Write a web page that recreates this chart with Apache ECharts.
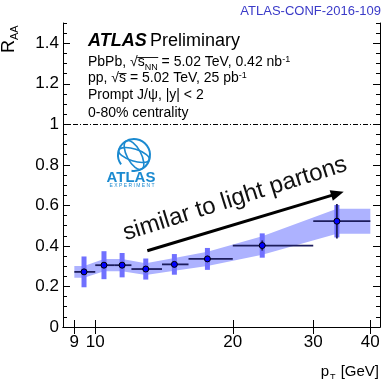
<!DOCTYPE html>
<html><head><meta charset="utf-8">
<script src="https://cdn.jsdelivr.net/npm/echarts@6/dist/echarts.min.js"></script>
<style>html,body{margin:0;padding:0;background:#fff}#chart{width:384px;height:379px}</style>
</head><body><div id="chart"></div>
<script>
// Prompt J/psi R_AA versus pT, PbPb 0-80% centrality
const binLow     = [9, 10, 11, 12, 14, 16, 20, 30];
const binHigh    = [10, 11, 12, 14, 16, 20, 30, 40];
const ptMean     = [9.45, 10.45, 11.45, 12.9, 14.9, 17.6, 23.2, 33.8];
const raa        = [0.272, 0.305, 0.305, 0.286, 0.309, 0.336, 0.402, 0.522];
const statErr    = [0.010, 0.010, 0.010, 0.010, 0.012, 0.015, 0.025, 0.085];
const systUncorr = [0.076, 0.069, 0.060, 0.052, 0.051, 0.054, 0.060, 0.080];
const systCorr   = [0.029, 0.030, 0.030, 0.029, 0.032, 0.035, 0.046, 0.062];
const xTicks     = [9, 10, 20, 30, 40];
const yTicks     = [0, 0.2, 0.4, 0.6, 0.8, 1, 1.2, 1.4];
const arrowFrom  = [13.0, 0.376];
const arrowTo    = [33.9, 0.658];

const yMinor = [];
yTicks.forEach(v => { [0.05, 0.1, 0.15].forEach(d => { const m = +(v + d).toFixed(2); if (m <= 1.5) yMinor.push(m); }); });
yMinor.push(1.45);

const FONT = 'Liberation Sans, Arial, Helvetica, sans-serif';
const chart = echarts.init(document.getElementById('chart'), null, { renderer: 'canvas' });

// text widths for the square-root overlines
const mctx = document.createElement('canvas').getContext('2d');
function textW(str, px) { mctx.font = px + 'px ' + FONT; return mctx.measureText(str).width; }
const ol1x = 88 + textW('PbPb, √', 14) - 0.5;
const ol1w = textW('s', 14) + textW('NN', 9) + 1;
const ol2x = 88 + textW('pp, √', 14) - 0.5;
const ol2w = textW('s', 14) + 1;

const xBase = {
  type: 'log', logBase: 10, min: 8.5, max: 42,
  axisLine: { lineStyle: { color: '#000', width: 1 } },
  axisTick: { inside: true, length: 7, customValues: xTicks, lineStyle: { color: '#000' } },
  splitLine: { show: false }, minorTick: { show: false }
};
const yBase = { type: 'value', min: 0, max: 1.5, splitLine: { show: false } };

// correlated-systematics band: flat across the outer half bins, joined at the points
const bandX  = [binLow[0]].concat(ptMean, [binHigh[binHigh.length - 1]]);
const bandLo = raa.map((v, i) => v - systCorr[i]);
const bandHi = raa.map((v, i) => v + systCorr[i]);
bandLo.unshift(bandLo[0]); bandLo.push(bandLo[bandLo.length - 1]);
bandHi.unshift(bandHi[0]); bandHi.push(bandHi[bandHi.length - 1]);

const option = {
  animation: false,
  grid: { left: 63, right: 4, top: 23, bottom: 52 },
  xAxis: [
    Object.assign({}, xBase, { position: 'bottom',
      axisLabel: { customValues: xTicks, fontFamily: FONT, fontSize: 17, color: '#000', margin: 7 } }),
    Object.assign({}, xBase, { position: 'top', axisLabel: { show: false } })
  ],
  yAxis: [
    Object.assign({}, yBase, { position: 'left',
      axisLine: { show: true, lineStyle: { color: '#000' } },
      axisTick: { inside: true, length: 7, customValues: yTicks, lineStyle: { color: '#000' } },
      axisLabel: { customValues: yTicks, fontFamily: FONT, fontSize: 17, color: '#000', margin: 4,
        formatter: v => String(+v.toFixed(1)) } }),
    Object.assign({}, yBase, { position: 'left',
      axisLine: { show: false },
      axisTick: { inside: true, length: 4, customValues: yMinor, lineStyle: { color: '#000' } },
      axisLabel: { show: false } }),
    Object.assign({}, yBase, { position: 'right',
      axisLine: { show: true, lineStyle: { color: '#000' } },
      axisTick: { inside: true, length: 7, customValues: yTicks, lineStyle: { color: '#000' } },
      axisLabel: { show: false } }),
    Object.assign({}, yBase, { position: 'right',
      axisLine: { show: false },
      axisTick: { inside: true, length: 4, customValues: yMinor, lineStyle: { color: '#000' } },
      axisLabel: { show: false } })
  ],
  series: [
    {
      type: 'custom', name: 'corr', z: 1, silent: true,
      data: [[bandX[0], bandLo[0], bandHi[0]]],
      renderItem: function (params, api) {
        const up = bandX.map((x, i) => api.coord([x, bandHi[i]]));
        const dn = bandX.map((x, i) => api.coord([x, bandLo[i]])).reverse();
        return { type: 'polygon', shape: { points: up.concat(dn) }, style: { fill: '#adb2ff' } };
      }
    },
    {
      type: 'custom', name: 'uncorr', z: 2, silent: true,
      data: ptMean.map((x, i) => [x, raa[i] - systUncorr[i], raa[i] + systUncorr[i]]),
      renderItem: function (params, api) {
        const a = api.coord([api.value(0), api.value(1)]);
        const b = api.coord([api.value(0), api.value(2)]);
        return { type: 'rect', shape: { x: a[0] - 2.5, y: b[1], width: 5, height: a[1] - b[1] },
          style: { fill: '#7070ff' } };
      }
    },
    {
      type: 'custom', name: 'bars', z: 3, silent: true,
      data: ptMean.map((x, i) => [x, raa[i], binLow[i], binHigh[i], raa[i] - statErr[i], raa[i] + statErr[i]]),
      renderItem: function (params, api) {
        const l = api.coord([api.value(2), api.value(1)]);
        const r = api.coord([api.value(3), api.value(1)]);
        const t = api.coord([api.value(0), api.value(5)]);
        const b = api.coord([api.value(0), api.value(4)]);
        const st = { stroke: '#1c1c5c', lineWidth: 1.8 };
        return { type: 'group', children: [
          { type: 'line', shape: { x1: l[0], y1: l[1], x2: r[0], y2: r[1] }, style: st },
          { type: 'line', shape: { x1: t[0], y1: t[1], x2: b[0], y2: b[1] }, style: st }
        ] };
      },
      markLine: {
        silent: true, symbol: ['none', 'triangle'], symbolSize: [11, 13],
        lineStyle: { color: '#000', width: 3, type: 'solid' }, label: { show: false },
        data: [[{ coord: arrowFrom }, { coord: arrowTo }]]
      }
    },
    {
      type: 'scatter', name: 'RAA', z: 4, silent: true,
      data: ptMean.map((x, i) => [x, raa[i]]),
      symbol: 'circle', symbolSize: 6,
      itemStyle: { color: '#0000ff', borderColor: '#000', borderWidth: 1, opacity: 1 },
      markLine: {
        silent: true, symbol: 'none', label: { show: false },
        lineStyle: { color: '#000', width: 1, type: [5, 2, 1, 2] },
        data: [{ yAxis: 1 }]
      }
    }
  ],
  graphic: [
    { type: 'text', right: 3, top: 5, style: { text: 'ATLAS-CONF-2016-109', font: '13px ' + FONT, fill: '#3a3ac8' } },
    { type: 'text', x: 20, y: 53, rotation: Math.PI / 2, style: {
        text: '{r|R}{s|AA}', align: 'left', verticalAlign: 'bottom',
        rich: { r: { font: '18px ' + FONT, fill: '#000', lineHeight: 20, verticalAlign: 'top' },
                s: { font: '11px ' + FONT, fill: '#000', lineHeight: 11, verticalAlign: 'top', padding: [9, 0, 0, 0] } } } },
    { type: 'text', x: 88, y: 32, style: {
        text: '{b|ATLAS} {n|Preliminary}',
        rich: { b: { font: 'italic bold 18px ' + FONT, fill: '#000' }, n: { font: '18px ' + FONT, fill: '#000' } } } },
    { type: 'text', x: 88, y: 55, style: {
        text: '{m|PbPb, √s}{sub|NN}{m| = 5.02 TeV, 0.42 nb}{sup|-1}',
        rich: {
          m: { font: '14px ' + FONT, fill: '#000', lineHeight: 16, verticalAlign: 'top' },
          sub: { font: '9px ' + FONT, fill: '#000', lineHeight: 9, verticalAlign: 'top', padding: [8, 0, 0, 0] },
          sup: { font: '9px ' + FONT, fill: '#000', lineHeight: 9, verticalAlign: 'top', padding: [0, 0, 0, 0] } } } },
    { type: 'line', shape: { x1: ol1x, y1: 57.5, x2: ol1x + ol1w, y2: 57.5 }, style: { stroke: '#000', lineWidth: 0.9 } },
    { type: 'text', x: 88, y: 71, style: {
        text: '{m|pp, √s = 5.02 TeV, 25 pb}{sup|-1}',
        rich: {
          m: { font: '14px ' + FONT, fill: '#000', lineHeight: 16, verticalAlign: 'top' },
          sup: { font: '9px ' + FONT, fill: '#000', lineHeight: 9, verticalAlign: 'top' } } } },
    { type: 'line', shape: { x1: ol2x, y1: 73.5, x2: ol2x + ol2w, y2: 73.5 }, style: { stroke: '#000', lineWidth: 0.9 } },
    { type: 'text', x: 88, y: 88, style: { text: 'Prompt J/ψ, |y| < 2', font: '14px ' + FONT, fill: '#000' } },
    { type: 'text', x: 88, y: 106, style: { text: '0-80% centrality', font: '14px ' + FONT, fill: '#000' } },
    { type: 'text', x: 379, y: 364, style: {
        text: '{p|p}{s|T}{p| [GeV]}', align: 'right',
        rich: { p: { font: '15px ' + FONT, fill: '#000', lineHeight: 17, verticalAlign: 'top' },
                s: { font: '9px ' + FONT, fill: '#000', lineHeight: 9, verticalAlign: 'top', padding: [9, 1, 0, 1] } } } },
    { type: 'text', x: 235, y: 199, rotation: 0.305, style: {
        text: 'similar to light partons', align: 'center', verticalAlign: 'middle',
        font: '24px ' + FONT, fill: '#111' } },
    // experiment logo
    { type: 'group', x: 134, y: 155, children: [
        { type: 'arc', shape: { cx: 0, cy: 0, r: 16, startAngle: Math.PI * 0.8, endAngle: Math.PI * 2.55 },
          style: { stroke: '#1b8ad0', lineWidth: 2, fill: null } },
        { type: 'ellipse', rotation: 0.5, shape: { cx: 0, cy: 0, rx: 7, ry: 16 },
          style: { stroke: '#1b8ad0', lineWidth: 1.6, fill: null } },
        { type: 'ellipse', rotation: -0.3, shape: { cx: 0, cy: 0, rx: 16, ry: 6 },
          style: { stroke: '#1b8ad0', lineWidth: 1.6, fill: null } }
    ] },
    { type: 'text', x: 131, y: 170, style: { text: 'ATLAS', align: 'center', font: 'bold 15px ' + FONT, fill: '#1b8ad0' } },
    { type: 'text', x: 132, y: 183, style: { text: 'E X P E R I M E N T', align: 'center', font: '5px ' + FONT, fill: '#1b8ad0' } }
  ]
};
chart.setOption(option);
</script></body></html>
